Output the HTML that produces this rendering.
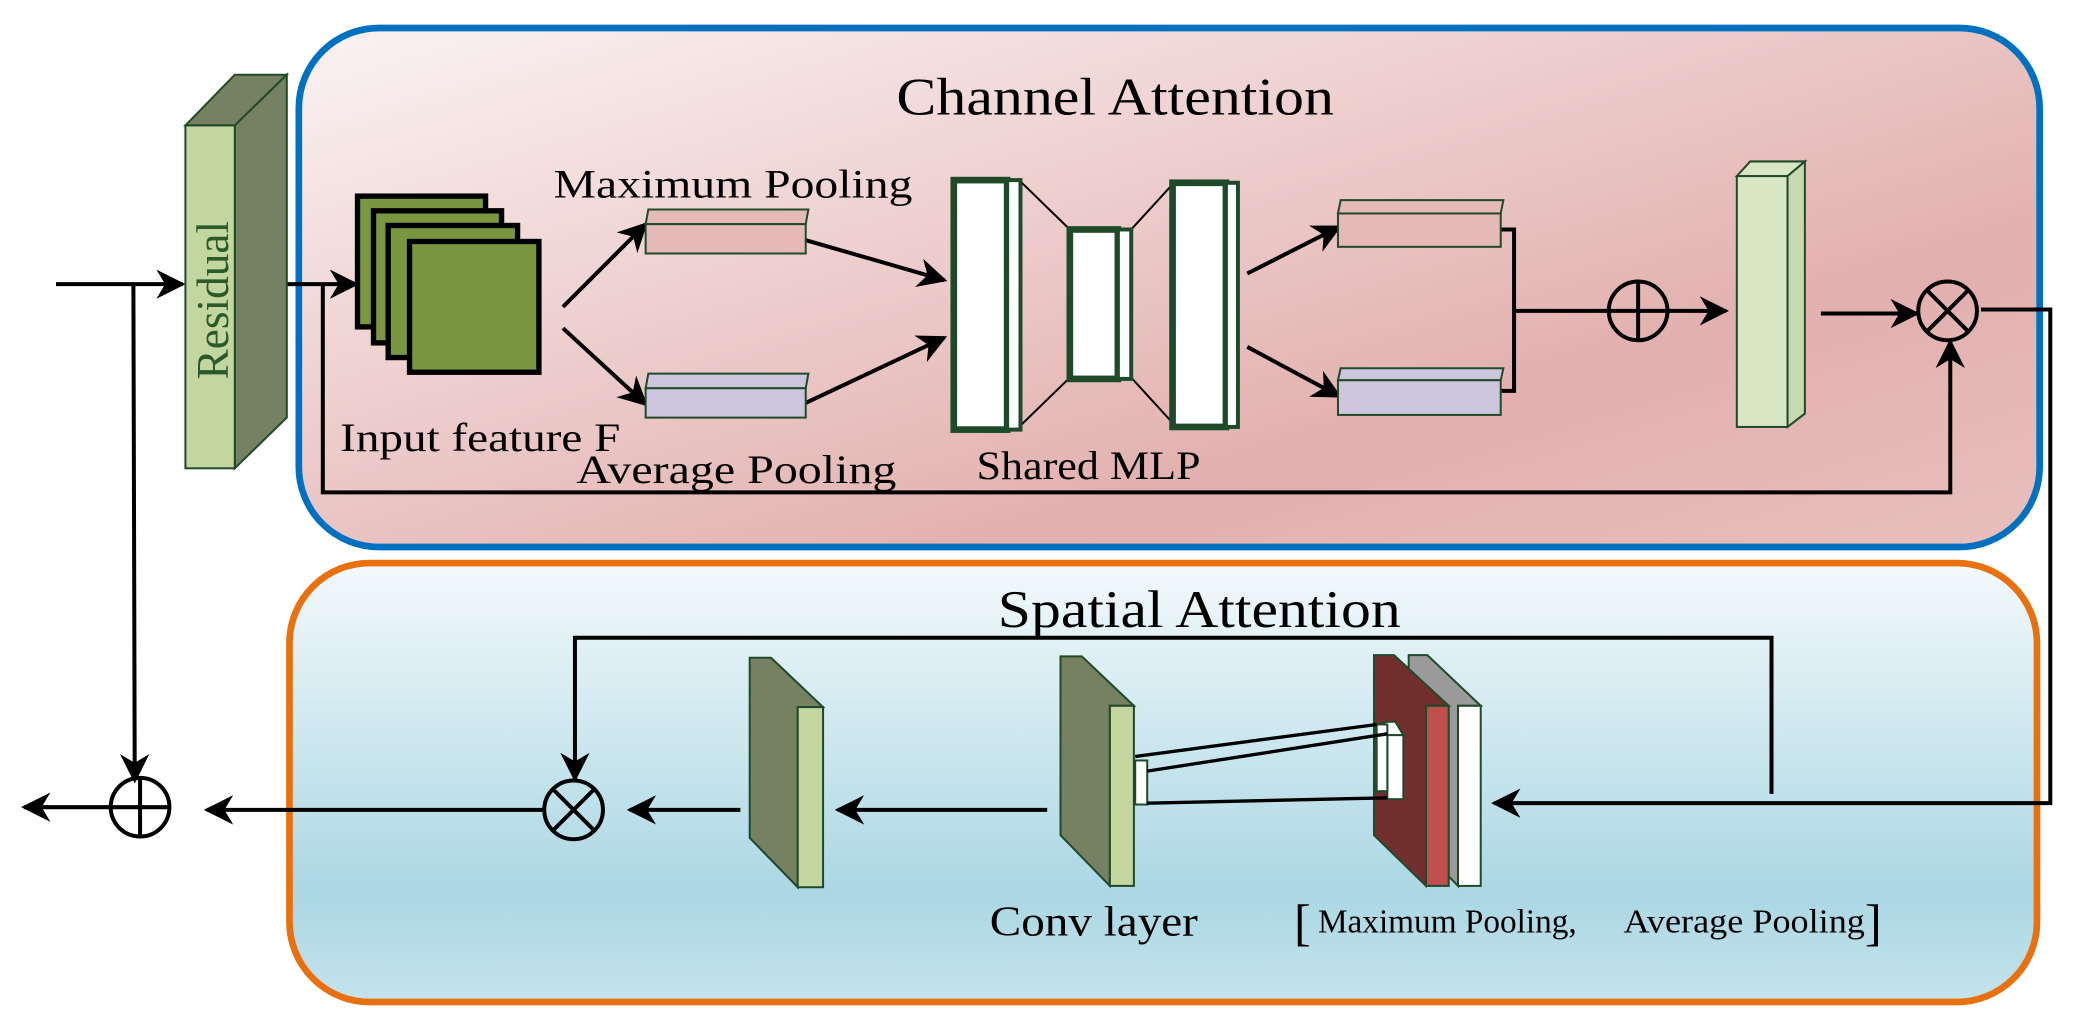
<!DOCTYPE html>
<html><head><meta charset="utf-8"><style>html,body{margin:0;padding:0;background:#fff}svg{display:block}</style></head>
<body>
<svg width="2085" height="1034" viewBox="0 0 1563 775" preserveAspectRatio="none" xmlns="http://www.w3.org/2000/svg" font-family="Liberation Serif, serif">
<defs>
<linearGradient id="gr" x1="0" y1="0" x2="1" y2="1"><stop offset="0" stop-color="#fbf3f3"/><stop offset="0.7" stop-color="#e2b0ae"/><stop offset="1" stop-color="#e8bfbd"/></linearGradient>
<linearGradient id="gb" x1="0" y1="0" x2="0" y2="1"><stop offset="0" stop-color="#f3f9fb"/><stop offset="0.75" stop-color="#abd7e4"/><stop offset="1" stop-color="#c4e3ec"/></linearGradient>
<marker id="a" viewBox="0 0 10 10" markerWidth="22" markerHeight="22" refX="9" refY="5" orient="auto" markerUnits="userSpaceOnUse"><path d="M0,0 L10,5 L0,10 L3,5 Z" fill="#000"/></marker>
</defs>
<rect x="224" y="21" width="1305" height="389" rx="60" fill="url(#gr)" stroke="#0070c0" stroke-width="5"/>
<rect x="217" y="422" width="1310" height="329" rx="60" fill="url(#gb)" stroke="#e8700f" stroke-width="5"/>
<text x="672" y="86" font-size="40" textLength="328" lengthAdjust="spacingAndGlyphs">Channel Attention</text>
<text x="748" y="470" font-size="40" textLength="302" lengthAdjust="spacingAndGlyphs">Spatial Attention</text>

<g stroke="#000" stroke-width="3" fill="none">
<line x1="42" y1="213" x2="137" y2="213" marker-end="url(#a)"/>
<polyline points="100,213 101,585" marker-end="url(#a)"/>
<line x1="82" y1="605" x2="18" y2="605" marker-end="url(#a)"/>
<line x1="205" y1="213" x2="267" y2="213" marker-end="url(#a)"/>
<polyline points="242,213 242,369 1462,369 1462,256" marker-end="url(#a)"/>
<line x1="422" y1="230" x2="484" y2="168" marker-end="url(#a)"/>
<line x1="422" y1="246" x2="484" y2="303" marker-end="url(#a)"/>
<line x1="604" y1="180" x2="708" y2="210" marker-end="url(#a)"/>
<line x1="604" y1="302" x2="708" y2="253" marker-end="url(#a)"/>
<line x1="935" y1="205" x2="1004" y2="170" marker-end="url(#a)"/>
<line x1="935" y1="260" x2="1004" y2="297" marker-end="url(#a)"/>
<polyline points="1125,172 1135,172 1135,293 1125,293"/>
<line x1="1135" y1="233" x2="1206" y2="233"/>
<line x1="1250" y1="233" x2="1294" y2="233" marker-end="url(#a)"/>
<line x1="1365" y1="235" x2="1437" y2="235" marker-end="url(#a)"/>
<polyline points="1485,232 1537,232 1537,602 1120,602" marker-end="url(#a)"/>
<polyline points="1328,595 1328,478 431,478 431,584" marker-end="url(#a)"/>
<line x1="555" y1="607" x2="472" y2="607" marker-end="url(#a)"/>
<line x1="407" y1="607" x2="155" y2="607" marker-end="url(#a)"/>
<line x1="785" y1="607" x2="628" y2="607" marker-end="url(#a)"/>
</g>
<g stroke="#000" stroke-width="3" fill="none">
<circle cx="105" cy="605" r="22"/><line x1="83" y1="605" x2="127" y2="605"/><line x1="105" y1="583" x2="105" y2="627"/>
<circle cx="1228" cy="233" r="22"/><line x1="1206" y1="233" x2="1250" y2="233"/><line x1="1228" y1="211" x2="1228" y2="255"/>
<circle cx="1460" cy="233" r="22"/><line x1="1444" y1="217" x2="1476" y2="249"/><line x1="1476" y1="217" x2="1444" y2="249"/>
<circle cx="430" cy="607" r="22"/><line x1="414" y1="591" x2="446" y2="623"/><line x1="446" y1="591" x2="414" y2="623"/>
</g>
<!-- residual -->
<g stroke="#1f4a2a" stroke-width="1.5">
<polygon points="139,94 176,56 215,56 176,94" fill="#758160"/>
<polygon points="176,94 215,56 215,313 176,351" fill="#758160"/>
<rect x="139" y="94" width="37" height="257" fill="#c4d6a0"/>
</g>
<text transform="translate(171,225) rotate(-90)" font-size="34" fill="#2a5a2a" text-anchor="middle">Residual</text>
<g stroke="#000" stroke-width="4" fill="#7a9640">
<rect x="268" y="147" width="96" height="98"/>
<rect x="280" y="158" width="96" height="99"/>
<rect x="291" y="169" width="97" height="99"/>
<rect x="307" y="181" width="97" height="98"/>
</g>
<text x="415" y="148" font-size="30" textLength="269" lengthAdjust="spacingAndGlyphs">Maximum Pooling</text>
<text x="255" y="338" font-size="30" textLength="210" lengthAdjust="spacingAndGlyphs">Input feature F</text>
<text x="432" y="362" font-size="30" textLength="240" lengthAdjust="spacingAndGlyphs">Average Pooling</text>
<g stroke="#1f4a2a" stroke-width="1.5">
<polygon points="484,168 486,157 606,157 604,168" fill="#e5b9b7"/><rect x="484" y="168" width="120" height="22" fill="#e5b9b7"/>
<polygon points="484,291 486,280 606,280 604,291" fill="#cdc5dd"/><rect x="484" y="291" width="120" height="22" fill="#cdc5dd"/>
<polygon points="1003,160 1005,150 1127,150 1125,160" fill="#e5b9b7"/><rect x="1003" y="160" width="122" height="25" fill="#e5b9b7"/>
<polygon points="1003,285 1005,276 1127,276 1125,285" fill="#cdc5dd"/><rect x="1003" y="285" width="122" height="26" fill="#cdc5dd"/>
</g>
<g stroke="#000" stroke-width="1.5"><line x1="766" y1="137" x2="802" y2="172"/><line x1="766" y1="318" x2="802" y2="283"/><line x1="848" y1="172" x2="880" y2="137"/><line x1="848" y1="283" x2="880" y2="318"/></g>
<g stroke="#1f4a2a" fill="#fff">
<rect x="715" y="135" width="40" height="187" stroke-width="5"/><rect x="755" y="135" width="10" height="187" stroke-width="3"/>
<rect x="802" y="172" width="36" height="112" stroke-width="5"/><rect x="838" y="172" width="10" height="112" stroke-width="3"/>
<rect x="879" y="137" width="40" height="183" stroke-width="5"/><rect x="919" y="137" width="9" height="183" stroke-width="3"/>
</g>
<text x="732" y="359" font-size="30" textLength="168" lengthAdjust="spacingAndGlyphs">Shared MLP</text>
<g stroke="#1f4a2a" stroke-width="1.5" fill="#d8e6c4">
<polygon points="1302,132 1312,121 1353,121 1340,132"/><polygon points="1340,132 1353,121 1353,310 1340,320" fill="#c8d8b0"/>
<rect x="1302" y="132" width="38" height="188"/>
</g>
<g stroke="#1f4a2a" stroke-width="1.5">
<polygon points="562,493 578,493 617,530 598,530 598,665 562,628" fill="#758160"/>
<rect x="598" y="530" width="19" height="135" fill="#c4d6a0"/>
<polygon points="795,492 811,492 850,529 832,529 832,664 795,626" fill="#758160"/>
<rect x="832" y="529" width="18" height="135" fill="#c4d6a0"/>
<polygon points="1056,491 1070,491 1110,529 1093,529 1093,664 1056,626" fill="#9a9a9a"/>
<rect x="1093" y="529" width="17" height="135" fill="#fff"/>
<polygon points="1030,491 1045,491 1086,529 1069,529 1069,664 1030,626" fill="#732f2e"/>
<rect x="1069" y="529" width="17" height="135" fill="#c0504d"/>
<polygon points="1032,543 1040,541 1046,541 1052,551 1040,551" fill="#fff"/>
<rect x="1040" y="551" width="12" height="48" fill="#fff"/>
<rect x="1032" y="543" width="8" height="50" fill="#fff"/>
<rect x="851" y="570" width="9" height="33" fill="#fff"/>
</g>
<g stroke="#000" stroke-width="2.5"><line x1="851" y1="567" x2="1032" y2="543"/><line x1="860" y1="578" x2="1040" y2="550"/><line x1="860" y1="602" x2="1040" y2="598"/></g>
<text x="742" y="701" font-size="32" textLength="156" lengthAdjust="spacingAndGlyphs">Conv layer</text>
<text x="970" y="704" font-size="38">[</text>
<text x="988" y="699" font-size="25" textLength="194" lengthAdjust="spacingAndGlyphs">Maximum Pooling,</text>
<text x="1217" y="699" font-size="25" textLength="181" lengthAdjust="spacingAndGlyphs">Average Pooling</text>
<text x="1398" y="704" font-size="38">]</text>
</svg>
</body></html>
